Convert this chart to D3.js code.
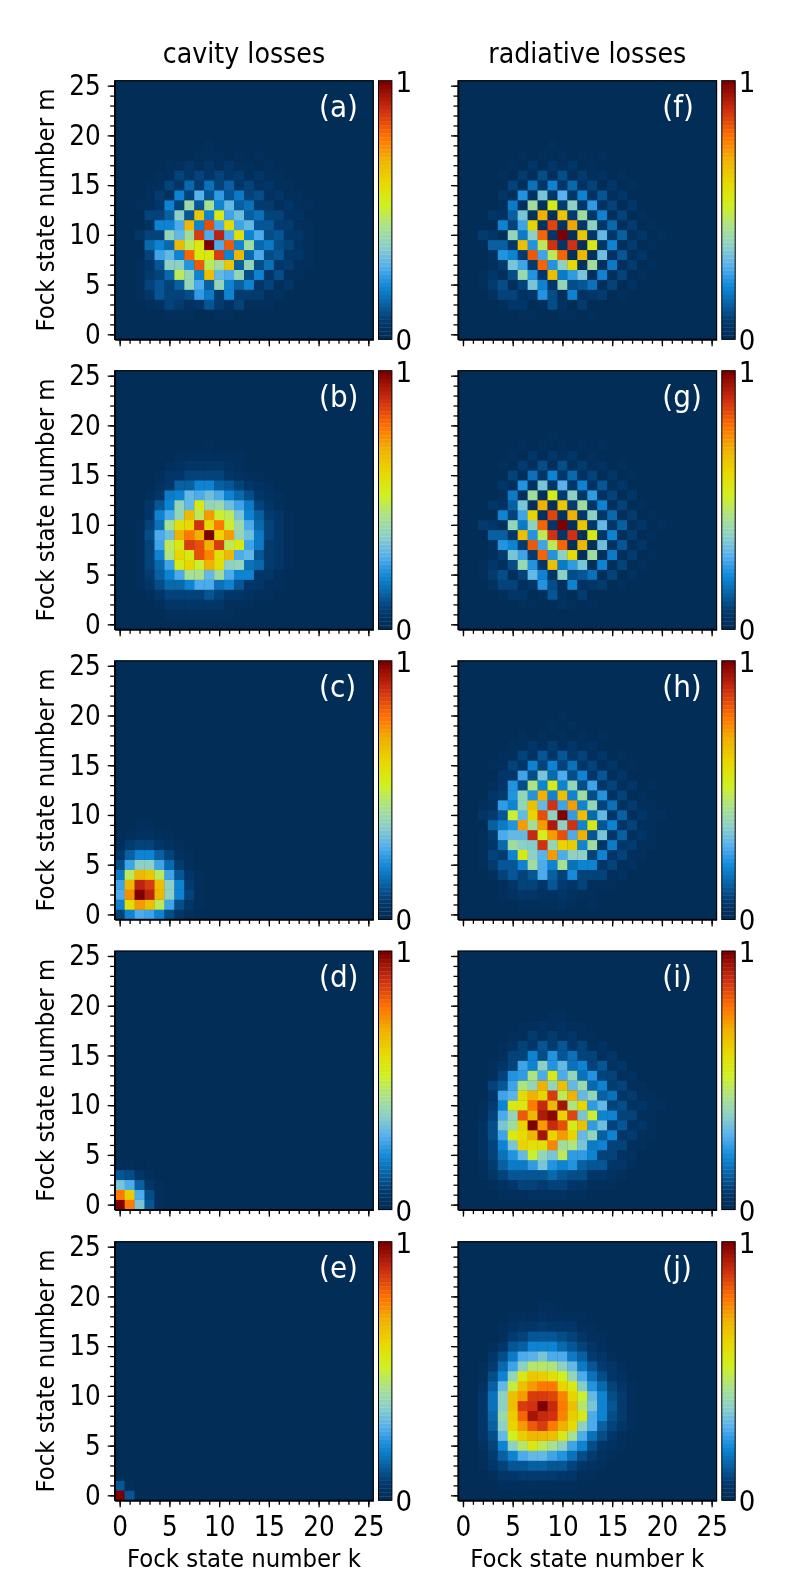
<!DOCTYPE html>
<html>
<head>
<meta charset="utf-8">
<script src="https://cdn.jsdelivr.net/npm/d3@7"></script>
<style>
  html, body { margin: 0; padding: 0; background: #fff; }
  svg { display: block; filter: blur(0.35px); }
  text { font-family: "DejaVu Sans Condensed", "DejaVu Sans", sans-serif; font-stretch: condensed; fill: #000; }
  .axis path { stroke: #000; stroke-width: 1.2; }
  .axis line { stroke: #000; stroke-width: 1.3; }
  .axis text { font-size: 27.5px; }
</style>
</head>
<body>
<div class="chart"></div>
<script>
// tick values and labels
const majorTicks = [0, 5, 10, 15, 20, 25];
const minorTicks = d3.range(0, 26);
const columnTitles = ['cavity losses', 'radiative losses'];
const xLabel = 'Fock state number k';
const yLabel = 'Fock state number m';
const barLabels = ['0', '1'];

// colormap
const colorStops = [0, 0.03, 0.07, 0.12, 0.2, 0.28, 0.36, 0.43, 0.52, 0.61, 0.7, 0.79, 0.89, 1];
const colorValues = ['#012d57', '#023160', '#033d72', '#075c9c', '#0f88d8', '#55b0ee', '#8cd0c8', '#a8e090', '#d0f020', '#e8d800', '#f0b000', '#ff7000', '#d03010', '#800000'];

// heat values in percent, rows go m = 0, 1, 2..., columns k = 0, 1, 2... (missing = 0)
const panelA = [
  [],
  [0,0,0,0,0,1,1,1,1,1,1,1],
  [0,0,0,0,1,2,3,3,1,1,3,2,1,1],
  [0,0,0,2,4,8,7,4,5,12,7,4,8,3,3,3],
  [0,1,2,6,11,9,8,10,24,18,7,20,7,7,7,2,4],
  [0,0,3,8,12,9,14,38,27,14,38,20,14,20,6,9,3,5,1],
  [0,0,3,7,8,15,47,38,20,66,30,28,38,10,20,6,10,3,3],
  [0,0,3,5,12,36,36,22,82,48,42,65,14,38,10,16,6,7,2,2],
  [0,0,1,8,25,30,20,80,56,55,87,20,68,15,27,10,12,5,6,2],
  [0,0,0,15,20,15,68,47,55,100,27,82,20,42,15,18,10,8,4,2],
  [0,0,5,8,8,38,30,42,87,28,92,28,58,20,27,10,12,6,5,2],
  [0,0,0,4,20,20,28,68,20,84,27,60,25,30,12,12,7,7,3,2],
  [0,0,0,8,8,13,37,12,65,20,56,25,32,14,16,8,8,4,4],
  [0,0,2,3,6,20,8,40,12,43,20,30,13,16,7,7,3,5,2,2],
  [0,0,0,2,7,4,20,9,29,12,24,12,18,8,10,4,6,2,3,1],
  [0,0,0,2,3,8,5,15,7,17,8,14,6,8,4,6,2,3],
  [0,0,0,1,3,3,8,5,8,5,9,5,7,3,5,2,3],
  [0,0,0,0,1,3,2,5,3,5,3,5,2,3,1,3],
  [0,0,0,0,0,0,1,1,3,2,3,1,3,1,2],
  [0,0,0,0,0,0,0,1,1,2,1,1],
  [0,0,0,0,0,0,0,0,0,0,1]
];
const panelB = [
  [],
  [0,0,0,0,1,2,3,3,3,3,3,2,1,1],
  [0,0,0,1,3,5,5,5,5,5,5,3,3,2,1],
  [0,0,1,3,5,9,9,8,8,12,9,6,6,4,3,2],
  [0,0,2,5,10,15,15,20,27,27,17,19,12,6,6,3,2],
  [0,0,3,7,13,20,27,43,43,30,42,27,19,19,6,6,3,1],
  [0,0,3,8,15,26,54,62,50,69,58,36,38,17,15,7,5,2],
  [0,0,3,8,20,45,62,56,83,75,58,68,28,30,12,7,5,2],
  [0,0,3,9,25,47,55,86,83,70,86,48,56,26,18,7,5,2],
  [0,0,3,10,27,32,70,78,70,100,62,72,38,32,18,8,5,3],
  [0,0,2,9,17,43,58,60,88,60,78,50,40,27,15,9,5,2],
  [0,0,1,5,19,27,38,68,48,72,50,48,33,20,14,7,5,2],
  [0,0,0,5,12,20,38,30,55,38,40,32,25,18,8,5,3],
  [0,0,0,2,5,18,20,31,27,32,27,20,15,10,6,4,2],
  [0,0,0,1,4,6,13,13,19,19,14,12,9,6,4,2,1],
  [0,0,0,1,2,5,5,8,8,8,8,6,4,3,2,1],
  [0,0,0,0,1,2,4,5,5,5,5,4,2,1,1],
  [0,0,0,0,0,1,2,2,3,3,3,2,2,1],
  [0,0,0,0,0,0,1,1,1,2,1,1]
];
const panelC = [
  [8,20,28,26,19,10,5,2,1],
  [20,58,72,66,47,26,10,5,2,1],
  [28,74,100,92,68,37,19,8,3,1],
  [26,68,92,86,66,37,19,7,3,1],
  [18,47,68,65,47,26,12,5,2,1],
  [10,26,37,37,26,15,7,3,1],
  [5,13,20,20,14,8,4,2],
  [2,7,9,9,6,4,2,1],
  [1,3,4,4,3,2,1],
  [0,1,2,2,1,1],
  [0,1,1]
];
const panelD = [
  [100,78,33,12,3,1],
  [78,64,28,10,3,1],
  [33,28,14,5,2,1],
  [12,10,5,2,1],
  [3,3,1,1]
];
const panelE = [
  [100,11,1],
  [11,2],
  [1]
];
const panelF = [
  [],
  [0,0,0,0,0,0,1,1,0,0,1],
  [0,0,0,0,0,1,3,3,1,1,3,2,1,2],
  [0,0,0,0,3,5,5,1,2,10,4,1,7,1,1,1],
  [0,0,0,4,8,9,4,6,23,10,3,19,4,5,7,1,3],
  [0,0,2,7,10,3,8,33,20,5,38,10,12,17,2,8,1,4],
  [0,0,2,5,3,10,40,22,6,66,18,24,34,3,20,2,8,1,3],
  [0,0,0,2,7,33,26,7,80,23,36,60,3,42,2,18,3,7,1,3],
  [0,0,1,4,22,20,7,82,26,48,80,3,68,2,32,4,12,2,5,1],
  [0,0,0,13,13,5,66,22,48,88,5,88,3,55,6,20,3,7,1,2],
  [0,1,7,5,3,38,18,36,80,5,100,3,65,6,30,6,13,2,5,1,2],
  [0,0,1,1,20,9,26,62,4,85,4,71,6,36,6,15,3,7,1,3],
  [0,0,0,5,4,13,34,3,70,3,65,7,42,6,20,3,8,1,3],
  [0,0,1,1,3,18,3,42,3,54,7,37,6,24,4,9,1,5,1],
  [0,0,0,0,5,2,22,4,34,5,29,6,20,4,11,2,5,0,1],
  [0,0,0,1,1,8,2,17,5,20,5,15,4,9,1,5,1,2],
  [0,0,0,0,2,1,7,2,10,3,10,3,7,2,4,0,2],
  [0,0,0,0,0,2,1,5,1,6,2,5,1,3,1,1],
  [0,0,0,0,0,0,2,1,2,1,3,1,2,1,2],
  [0,0,0,0,0,0,0,1,0,2,0,1],
  [0,0,0,0,0,0,0,0,0,0,1]
];
const panelG = [
  [],
  [0,0,0,0,0,0,1,1,0,0,1],
  [0,0,0,0,0,1,3,3,1,1,4,2,1,2],
  [0,0,0,0,3,5,5,1,2,11,4,1,7,1,1,1],
  [0,0,0,4,8,9,3,6,23,10,3,19,4,5,7,1,3],
  [0,0,2,7,10,3,8,30,20,5,37,10,12,17,2,8,1,4],
  [0,0,2,5,3,10,40,22,6,66,18,24,34,3,20,2,8,1,3],
  [0,0,0,2,7,33,26,7,80,23,36,60,3,42,2,18,3,7,1,3],
  [0,0,1,4,22,20,7,82,26,48,80,3,68,2,32,4,12,2,5,1],
  [0,0,0,13,13,5,66,22,48,88,5,88,3,55,6,20,3,7,1,2],
  [0,1,7,5,3,38,18,36,80,5,100,3,65,6,30,6,13,2,5,1,2],
  [0,0,1,1,20,9,26,62,4,85,4,70,6,36,6,15,3,7,1,3],
  [0,0,0,5,4,13,34,3,70,3,65,7,42,6,20,3,8,1,3],
  [0,0,1,1,3,18,3,42,3,54,7,37,6,24,4,9,1,5,1],
  [0,0,0,0,5,2,22,4,34,5,29,6,20,4,11,2,5,0,1],
  [0,0,0,1,1,8,2,17,5,20,5,15,4,9,1,5,1,2],
  [0,0,0,0,2,1,7,2,10,3,10,3,7,2,4,0,2],
  [0,0,0,0,1,2,1,5,1,6,2,5,1,3,1,1],
  [0,0,0,0,0,0,2,1,2,1,3,1,2,1,2],
  [0,0,0,0,0,0,0,1,0,2,0,1],
  [0,0,0,0,0,0,0,0,1,0,1]
];
const panelH = [
  [],
  [0,0,0,0,0,1,2,3,3,3,4,3,1,2],
  [0,0,0,1,3,4,5,5,4,4,6,4,3,3,1],
  [0,0,0,1,3,6,8,8,5,12,7,5,9,3,3,3,1],
  [0,0,1,3,8,12,9,12,28,14,8,21,8,8,9,2,4,1],
  [0,0,2,7,12,11,20,42,28,19,43,16,19,19,5,9,2,4,1],
  [0,0,3,8,7,20,55,37,29,72,28,36,37,9,20,5,9,2,3],
  [0,0,3,5,15,42,37,35,88,38,62,64,19,42,6,18,5,7,2,3],
  [0,0,2,7,28,30,30,90,52,73,83,27,70,12,33,6,13,3,6,2],
  [0,0,0,13,18,22,73,42,72,93,36,88,19,55,12,20,5,9,2,3],
  [0,0,6,7,11,50,30,62,84,36,100,24,66,15,30,6,13,2,5,2,2],
  [0,0,2,4,24,20,38,66,30,88,26,72,20,38,8,16,4,7,2,3],
  [0,0,0,6,7,22,38,23,70,20,66,20,42,10,22,4,8,1,3],
  [0,0,1,2,6,22,10,45,20,54,20,38,10,25,5,9,2,5,1,2],
  [0,0,0,1,6,6,25,10,33,15,28,10,20,5,11,2,5,1,1],
  [0,0,0,2,2,9,6,19,9,20,9,17,5,9,2,5,0,2],
  [0,0,0,0,3,3,9,4,11,5,12,5,8,3,5,1,2],
  [0,0,0,0,0,3,2,6,3,7,3,6,2,4,1,1],
  [0,0,0,0,0,0,2,1,3,1,3,1,3,1,2],
  [0,0,0,0,0,1,0,1,1,2,1,2,1],
  [0,0,0,0,0,0,0,0,0,1,2,1]
];
const panelI = [
  [],
  [0,0,0,1,2,3,3,4,4,4,4,3,2,1,1],
  [0,0,1,2,4,6,8,8,7,8,8,6,5,3,2,2,1],
  [0,0,2,5,8,11,11,11,12,15,11,10,10,5,5,4,2,1],
  [0,0,3,7,14,18,18,24,33,23,20,23,14,12,11,5,5,2,1],
  [0,0,4,8,17,23,30,50,38,34,48,24,24,19,9,9,4,4,1],
  [0,0,4,9,20,34,62,58,58,76,42,44,34,18,20,8,9,3,3],
  [0,0,4,10,26,56,60,68,95,62,72,62,31,38,13,20,6,7,2,2],
  [0,0,4,10,33,42,62,100,72,90,84,54,66,24,32,8,12,4,6,2],
  [0,0,3,9,27,38,82,68,93,97,62,85,34,50,19,20,8,8,3,3],
  [0,0,3,7,20,56,55,78,90,68,94,45,62,24,30,9,10,4,5,2,2],
  [0,0,0,5,26,29,60,70,62,86,47,70,30,38,13,16,6,7,2,3],
  [0,0,0,8,12,26,44,38,70,38,66,30,40,15,20,7,8,3,3,1],
  [0,0,0,3,8,22,24,44,28,56,28,38,17,22,8,9,3,4,1],
  [0,0,0,2,5,9,25,20,36,22,30,16,20,8,11,4,5,1,1],
  [0,0,0,0,3,8,9,20,10,22,11,17,8,9,3,5,1,1],
  [0,0,0,0,2,4,9,6,12,7,12,6,8,3,4,1,1],
  [0,0,0,0,0,2,3,7,4,7,4,6,3,3,1,1],
  [0,0,0,0,0,1,2,2,4,2,4,2,3,1,1],
  [0,0,0,0,0,0,1,1,1,2,2,1,1],
  [0,0,0,0,0,0,0,0,1,1,1]
];
const panelJ = [
  [0,0,0,0,0,1,1,1,1,1,1],
  [0,0,0,1,2,3,3,3,3,3,2,2,1],
  [0,0,1,3,5,6,7,7,7,7,6,5,3,2,1],
  [0,0,2,5,8,11,12,13,13,12,11,9,6,4,3,1],
  [0,0,3,7,13,20,27,30,30,26,22,17,10,7,4,2],
  [0,0,4,8,20,36,46,55,48,43,36,25,19,10,6,4,2],
  [0,0,5,10,30,52,64,68,68,66,55,43,28,17,10,6,3,1],
  [0,0,5,13,36,62,72,82,87,78,70,60,37,27,13,9,5,2],
  [0,0,5,15,40,63,80,95,90,89,76,64,55,28,20,10,7,3],
  [0,0,5,17,37,66,86,88,100,90,77,66,46,33,20,12,7,3],
  [0,0,5,17,36,66,73,87,87,85,76,62,50,30,20,10,7,3],
  [0,0,4,14,30,49,66,73,78,78,62,55,35,22,15,8,5,3],
  [0,0,3,10,20,38,55,65,64,58,53,38,28,16,10,6,4,1],
  [0,0,2,7,15,25,37,46,46,44,36,30,18,12,7,5,2],
  [0,0,1,5,10,18,27,29,33,28,27,18,14,7,5,3,1],
  [0,0,0,3,5,11,14,20,20,19,15,12,8,5,3,1],
  [0,0,0,1,3,7,9,11,11,11,10,8,5,3,2],
  [0,0,0,0,2,4,5,6,7,6,6,5,3,2,1],
  [0,0,0,0,1,2,3,3,4,3,3,2,2,1],
  [0,0,0,0,0,1,1,1,2,2,1,1],
  [0,0,0,0,0,0,1,1,1,1]
];

const width = 789;
const height = 1578;
const panelSize = { w: 258.6, h: 258.6 };
const colLeft = [114.7, 458];
const rowTop = [80.7, 370.7, 660.8, 951, 1241.7];
const nColors = 64;

const svg = d3.select('.chart').append('svg')
    .attr('width', width)
    .attr('height', height)
    .attr('viewBox', `0 0 ${width} ${height}`);

const color = d3.scaleLinear().domain(colorStops).range(colorValues).interpolate(d3.interpolateRgb);
// the original colormap has discrete bands
const band = (v) => color(Math.min(nColors - 1, Math.floor(v * nColors)) / (nColors - 1));

const panels = [
    { name: '(a)', col: 0, row: 0, data: panelA },
    { name: '(b)', col: 0, row: 1, data: panelB },
    { name: '(c)', col: 0, row: 2, data: panelC },
    { name: '(d)', col: 0, row: 3, data: panelD },
    { name: '(e)', col: 0, row: 4, data: panelE },
    { name: '(f)', col: 1, row: 0, data: panelF },
    { name: '(g)', col: 1, row: 1, data: panelG },
    { name: '(h)', col: 1, row: 2, data: panelH },
    { name: '(i)', col: 1, row: 3, data: panelI },
    { name: '(j)', col: 1, row: 4, data: panelJ }
];

const xScale = d3.scaleLinear().domain([-0.5, 25.5]).range([0, panelSize.w]);
const yScale = d3.scaleLinear().domain([-0.5, 25.5]).range([panelSize.h, 0]);
const barScale = d3.scaleLinear().domain([0, 1]).range([panelSize.h, 0]);

panels.forEach((p) => {
    const g = svg.append('g')
        .attr('transform', `translate(${colLeft[p.col]}, ${rowTop[p.row]})`);

    /*      Background, everything not listed in the data is 0      */
    g.append('rect')
        .attr('width', panelSize.w)
        .attr('height', panelSize.h)
        .attr('fill', band(0));

    /*      Cells      */
    const cells = [];
    p.data.forEach((row, m) => row.forEach((v, k) => {
        if (v > 0) cells.push({ k: k, m: m, v: v / 100 });
    }));
    g.selectAll('rect.cell')
        .data(cells)
        .enter()
        .append('rect')
        .attr('class', 'cell')
        .attr('x', (d) => xScale(d.k - 0.5))
        .attr('y', (d) => yScale(d.m + 0.5))
        .attr('width', xScale(1) - xScale(0) + 0.3)
        .attr('height', yScale(0) - yScale(1) + 0.3)
        .attr('fill', (d) => band(d.v));

    /*      Axes      */
    const isBottom = p.row === 4;
    const isLeft = p.col === 0;
    g.append('g').attr('class', 'axis')
        .attr('transform', `translate(0, ${panelSize.h})`)
        .call(d3.axisBottom(xScale).tickValues(minorTicks).tickSize(4.5).tickSizeOuter(0).tickFormat(''));
    g.append('g').attr('class', 'axis')
        .attr('transform', `translate(0, ${panelSize.h})`)
        .call(d3.axisBottom(xScale).tickValues(majorTicks).tickSize(7).tickSizeOuter(0).tickPadding(9)
            .tickFormat((d) => isBottom ? d : ''));
    g.append('g').attr('class', 'axis')
        .call(d3.axisLeft(yScale).tickValues(minorTicks).tickSize(4.5).tickSizeOuter(0).tickFormat(''));
    g.append('g').attr('class', 'axis')
        .call(d3.axisLeft(yScale).tickValues(majorTicks).tickSize(7).tickSizeOuter(0).tickPadding(7)
            .tickFormat((d) => isLeft ? d : ''));

    /*      Frame      */
    g.append('rect')
        .attr('width', panelSize.w)
        .attr('height', panelSize.h)
        .attr('fill', 'none')
        .attr('stroke', '#000')
        .attr('stroke-width', 1.2);

    /*      Panel letter      */
    g.append('text')
        .attr('x', 204.3)
        .attr('y', 36)
        .style('font-size', '31px')
        .style('fill', '#fff')
        .text(p.name);

    /*      Colorbar      */
    const bar = g.append('g').attr('transform', `translate(${panelSize.w + 5.2}, 0)`);
    bar.selectAll('rect')
        .data(d3.range(nColors))
        .enter()
        .append('rect')
        .attr('y', (d) => barScale((d + 1) / nColors))
        .attr('width', 13.4)
        .attr('height', barScale(0) - barScale(1 / nColors) + 0.3)
        .attr('fill', (d) => color(d / (nColors - 1)));
    bar.append('rect')
        .attr('width', 13.4)
        .attr('height', panelSize.h)
        .attr('fill', 'none')
        .attr('stroke', '#000')
        .attr('stroke-width', 1);
    bar.selectAll('text')
        .data(barLabels)
        .enter()
        .append('text')
        .attr('x', 17)
        .attr('y', (d) => barScale(+d) + 11)
        .style('font-size', '29px')
        .text((d) => d);

    /*      Y label, left column only      */
    if (isLeft) {
        g.append('text')
            .attr('transform', `translate(${54 - colLeft[0]}, ${panelSize.h / 2}) rotate(-90)`)
            .attr('text-anchor', 'middle')
            .style('font-size', '25.4px')
            .text(yLabel);
    }
    /*      X label, bottom row only      */
    if (isBottom) {
        g.append('text')
            .attr('x', panelSize.w / 2)
            .attr('y', panelSize.h + 67)
            .attr('text-anchor', 'middle')
            .style('font-size', '25.4px')
            .text(xLabel);
    }
});

columnTitles.forEach((t, i) => {
    svg.append('text')
        .attr('x', colLeft[i] + panelSize.w / 2)
        .attr('y', 63)
        .attr('text-anchor', 'middle')
        .style('font-size', '28.2px')
        .text(t);
});
</script>
</body>
</html>
